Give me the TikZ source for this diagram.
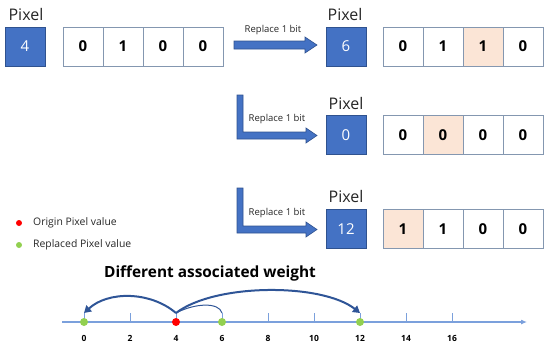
\documentclass[tikz,border=0pt]{standalone}
\usepackage{fontspec}
\setmainfont{Open Sans}
\usetikzlibrary{arrows.meta}
\definecolor{pixblue}{HTML}{4472C4}
\definecolor{pixborder}{HTML}{2F528F}
\definecolor{cellborder}{HTML}{8497B0}
\definecolor{peach}{HTML}{FBE5D6}
\definecolor{arcblue}{HTML}{2F5597}
\definecolor{axisblue}{HTML}{7BA0DC}
\definecolor{dotgreen}{HTML}{92D050}
\begin{document}
\begin{tikzpicture}[x=1pt,y=-1pt,
  pixbox/.style={draw=pixborder, fill=pixblue, line width=0.8pt, minimum width=40pt, minimum height=39pt, inner sep=0pt, text=white, font=\fontsize{15}{15}\selectfont},
  cell/.style={draw=cellborder, fill=white, line width=0.8pt, minimum width=40pt, minimum height=39pt, inner sep=0pt, font=\bfseries\fontsize{15}{15}\selectfont},
  hl/.style={cell, fill=peach},
  pixlabel/.style={font=\fontsize{16}{16}\selectfont, text=black!85, inner sep=0pt},
  replabel/.style={font=\fontsize{9.5}{10}\selectfont, text=black!85, inner sep=0pt},
  blockarrow/.style={fill=pixblue, draw=pixborder, line width=0.6pt},
  legtext/.style={font=\fontsize{10.4}{12}\selectfont, text=black!85, anchor=west, inner sep=0pt},
  dot/.style={circle, minimum size=8pt, inner sep=0pt},
  axisline/.style={draw=axisblue, line width=1.1pt},
  ticklabel/.style={font=\bfseries\fontsize{8.5}{9}\selectfont, inner sep=0pt},
  arcline/.style={draw=arcblue, line width=2pt},
  thinarc/.style={draw=arcblue, line width=1pt}
]
\useasboundingbox (0,0) rectangle (550,349);

% ---- Row 1
\node[pixlabel] (p1lab) at (26,14) {Pixel};
\node[pixbox] (p1) at (25,46.5) {4};
\node[cell] (a1) at (83,46.5) {0};
\node[cell] (a2) at (123,46.5) {1};
\node[cell] (a3) at (163,46.5) {0};
\node[cell] (a4) at (203,46.5) {0};

\fill[blockarrow] (234,41) -- (305,41) -- (305,37) -- (317,45) -- (305,53) -- (305,49) -- (234,49) -- cycle;
\node[replabel] (r1) at (273,30) {Replace 1 bit};

\node[pixlabel] (p2lab) at (345,14) {Pixel};
\node[pixbox] (p2) at (346,46.5) {6};
\node[cell] (b1) at (403,46.5) {0};
\node[cell] (b2) at (443,46.5) {1};
\node[hl] (b3) at (483,46.5) {1};
\node[cell] (b4) at (523,46.5) {0};

% ---- Row 2
\fill[blockarrow] (237,95) -- (243,95) -- (243,132) -- (306,132) -- (306,128) -- (317,135.5) -- (306,143) -- (306,139) -- (237,139) -- cycle;
\node[replabel] (r2) at (277,119) {Replace 1 bit};
\node[pixlabel] (p3lab) at (346,103) {Pixel};
\node[pixbox] (p3) at (346,135) {0};
\node[cell] (c1) at (403,135) {0};
\node[hl] (c2) at (443,135) {0};
\node[cell] (c3) at (483,135) {0};
\node[cell] (c4) at (523,135) {0};

% ---- Row 3
\fill[blockarrow] (237,188) -- (243,188) -- (243,226) -- (306,226) -- (306,222) -- (317,229.5) -- (306,237) -- (306,233) -- (237,233) -- cycle;
\node[replabel] (r3) at (277,213) {Replace 1 bit};
\node[pixlabel] (p4lab) at (346,196) {Pixel};
\node[pixbox] (p4) at (346,229) {12};
\node[hl] (e1) at (403,229) {1};
\node[cell] (e2) at (443,229) {1};
\node[cell] (e3) at (483,229) {0};
\node[cell] (e4) at (523,229) {0};

% ---- Legend
\node[dot, fill=red, minimum size=6pt] (lg1) at (19,223) {};
\node[legtext] (lt1) at (33,223) {Origin Pixel value};
\node[dot, fill=dotgreen, minimum size=6pt] (lg2) at (19,245) {};
\node[legtext] (lt2) at (33,245) {Replaced Pixel value};

% ---- Title
\node[font=\bfseries\fontsize{15.4}{17}\selectfont, inner sep=0pt] (title) at (210,273) {Different associated weight};

% ---- Axis
\coordinate (axs) at (62,322);
\coordinate (axe) at (527,322);
\draw[axisline, -{Latex[length=6pt,width=5pt]}] (axs) -- (axe);
\foreach \v in {0,2,...,16} {
  \coordinate (t\v) at ({84+23*\v},322);
  \coordinate (tt\v) at ({84+23*\v},313);
  \draw[axisline, line width=0.9pt] (t\v) -- (tt\v);
  \node[ticklabel] (l\v) at ({84+23*\v},338) {\v};
}
\node[dot, fill=dotgreen] (d0) at (t0) {};
\node[dot, fill=red] (d4) at (t4) {};
\node[dot, fill=dotgreen] (d6) at (t6) {};
\node[dot, fill=dotgreen] (d12) at (t12) {};

% ---- Arcs
\draw[arcline, -{Triangle[length=7pt,width=8pt]}] (tt4) .. controls (150,291) and (108,291) .. (tt0);
\draw[arcline, -{Triangle[length=7pt,width=8pt]}] (tt4) .. controls (215,283) and (322,283) .. (tt12);
\draw[thinarc] (tt4) .. controls (195,303) and (219,302) .. (tt6);
\end{tikzpicture}
\end{document}
